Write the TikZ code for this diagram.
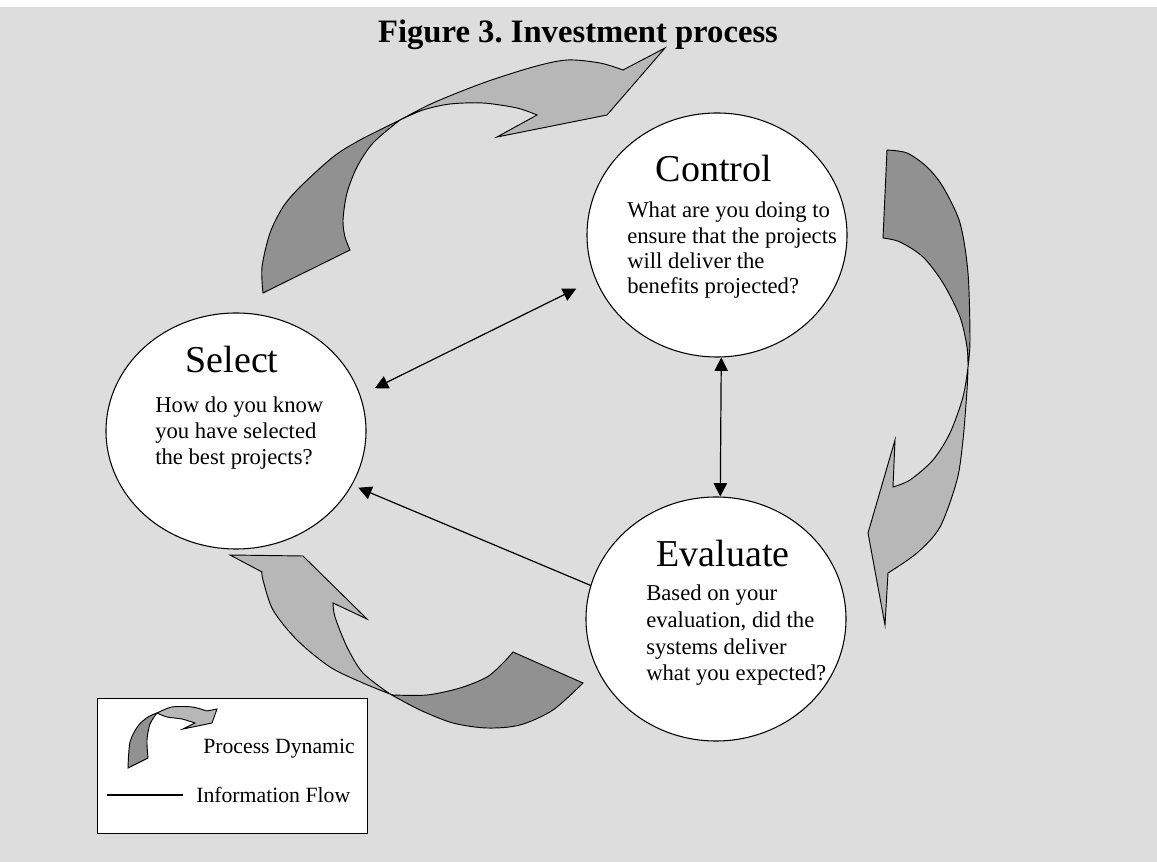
\documentclass[tikz,border=0pt]{standalone}
\usepackage{fontspec}
\setmainfont{Liberation Serif}
\usetikzlibrary{arrows.meta,shapes.geometric}
\definecolor{canvas}{RGB}{221,221,221}
\definecolor{tailgray}{RGB}{145,145,145}
\definecolor{headgray}{RGB}{183,183,183}
\frenchspacing
\begin{document}
\begin{tikzpicture}[x=0.75pt,y=-0.75pt,
  stage/.style={draw=black, line width=0.8pt, fill=white, ellipse,
    minimum width=195pt, minimum height=183pt, inner sep=0pt},
  heading/.style={anchor=base, inner sep=0pt, font=\fontsize{28.5}{34}\selectfont},
  question/.style={anchor=north west, align=left, inner sep=0pt},
  ribbon/.style={draw=black, line width=0.7pt, line join=miter},
  flow/.style={line width=0.9pt},
  legendtext/.style={anchor=base west, inner sep=0pt, font=\fontsize{16.3}{19}\selectfont},
  tip/.tip={Triangle[length=10pt,width=10pt]}
]
% page
\useasboundingbox (0,0) rectangle (1157,862);
\fill[white] (0,0) rectangle (1157,862);
\fill[canvas] (0,7) rectangle (1157,862);

% title
\node[anchor=base, inner sep=0pt, font=\bfseries\fontsize{24.5}{28}\selectfont] (title) at (578,43) {Figure 3. Investment process};

% legend frame
\node[draw=black, line width=1pt, fill=white, anchor=north west,
  minimum width=202.5pt, minimum height=101.25pt, inner sep=0pt] (legend) at (97,698) {};

% top ribbon: Select -> Control
\filldraw[ribbon, fill=tailgray]
  plot[smooth] coordinates {(400,120) (360,140) (333,157) (300,187) (283,207) (270,233) (262,267) (263,293)}
  -- plot[smooth] coordinates {(350,250) (345,237) (343,220) (347,193) (357,167) (373,143) (400,120)} -- cycle;
\filldraw[ribbon, fill=headgray]
  plot[smooth] coordinates {(400,120) (433,103) (483,83) (533,67) (567,60) (600,63) (623,70)}
  -- (665,48) -- (607,115) -- (497,137)
  -- plot[smooth] coordinates {(537,115) (517,108) (483,103) (450,104) (423,110) (400,120)} -- cycle;

% right ribbon: Control -> Evaluate
\filldraw[ribbon, fill=tailgray]
  plot[smooth] coordinates {(887,150) (907,153) (927,167) (943,187) (960,223) (968,273) (970,340) (968,367)}
  -- plot[smooth] coordinates {(968,367) (967,347) (960,317) (943,283) (923,257) (900,242) (883,238)} -- cycle;
\filldraw[ribbon, fill=headgray]
  plot[smooth] coordinates {(968,367) (967,390) (963,440) (957,480) (940,527) (917,553) (888,573)}
  -- (885,625) -- (868,533) -- (895,440)
  -- plot[smooth] coordinates {(893,487) (910,480) (933,460) (950,433) (963,397) (968,367)} -- cycle;

% bottom ribbon: Evaluate -> Select
\filldraw[ribbon, fill=tailgray]
  plot[smooth] coordinates {(390,694) (420,710) (453,723) (487,728) (520,725) (553,710) (583,683)}
  -- plot[smooth] coordinates {(513,652) (503,663) (487,677) (460,688) (427,695) (393,695)} -- cycle;
\filldraw[ribbon, fill=headgray]
  plot[smooth] coordinates {(390,694) (363,683) (330,667) (297,640) (273,610) (263,580) (262,572)}
  -- (230,555) -- (303,556) -- (367,619)
  -- plot[smooth] coordinates {(333,603) (335,617) (347,647) (363,673) (390,694)} -- cycle;

% legend ribbon sample
\filldraw[ribbon, fill=tailgray]
  plot[smooth] coordinates {(157,713) (148,717) (138,726) (130,742) (128,768)}
  -- plot[smooth] coordinates {(148,758) (147,740) (150,724) (157,713)} -- cycle;
\filldraw[ribbon, fill=headgray]
  plot[smooth] coordinates {(157,713) (172,707) (192,707) (207,711)}
  -- (217,709) -- (212,723) -- (183,729)
  -- plot[smooth] coordinates {(195,723) (182,719) (167,717) (157,713)} -- cycle;

% legend entries
\coordinate (lg-a) at (107,795);
\coordinate (lg-b) at (183,795);
\draw[flow] (lg-a) -- (lg-b);
\node[legendtext] (lg-proc) at (203,753) {Process Dynamic};
\node[legendtext] (lg-info) at (196,802) {Information Flow};

% the three stages
\node[stage] (ctrl) at (717,235) {};
\node[stage, minimum height=177pt] (sel) at (236,431) {};
\node[stage] (eval) at (716,619) {};

\node[heading] (ctrl-h) at (714,182) {Control};
\node[question, font=\fontsize{17}{18.9}\selectfont] (ctrl-q) at (627,202)
  {What are you doing to\\ensure that the projects\\will deliver the\\benefits projected?};

\node[heading] (sel-h) at (232,373) {Select};
\node[question, font=\fontsize{17}{19.2}\selectfont] (sel-q) at (155,397)
  {How do you know\\you have selected\\the best projects?};

\node[heading] (eval-h) at (723,567) {Evaluate};
\node[question, font=\fontsize{17}{20}\selectfont] (eval-q) at (646,585)
  {Based on your\\evaluation, did the\\systems deliver\\what you expected?};

% information flow
\draw[flow, tip-tip, shorten <=16pt, shorten >=12pt] (ctrl.200.8) -- (sel.16.8);
\draw[flow, tip-tip] (ctrl.-88) -- (eval.88);
\draw[flow, -tip, shorten >=5pt] (eval.165) -- (sel.-25.4);
\end{tikzpicture}
\end{document}
